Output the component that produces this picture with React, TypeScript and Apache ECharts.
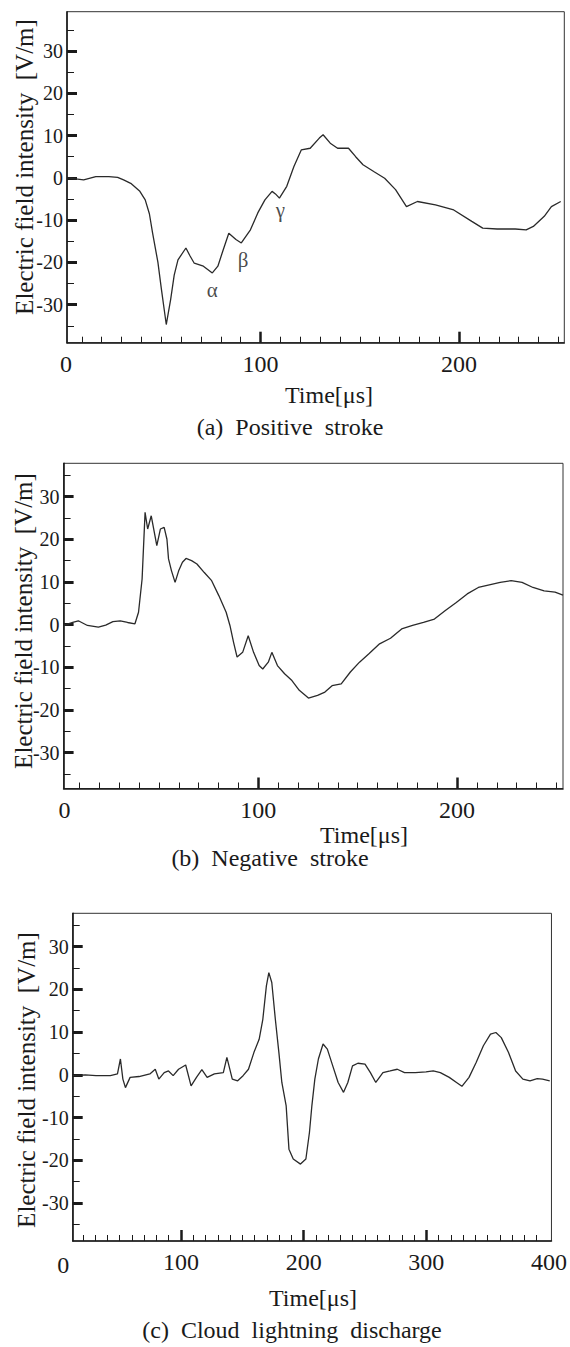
import React, { useEffect, useRef } from "react";
import * as echarts from "echarts";

// ---------- (a) Positive stroke ----------
const aTime = [2.8, 10.9, 17, 23.6, 28, 31, 34.6, 39.2, 41.9, 44, 45.6, 48.3, 50.1, 52.5, 54.7, 56.5, 58.4, 62.4, 64.5, 66.6, 71.2, 75.7, 78.5, 81.2, 84, 87.6, 90.3, 94.9, 98.6, 102.2, 105.8, 107.5, 109.5, 113.2, 116.8, 120.5, 125, 129.6, 131.5, 135.1, 138.8, 144.3, 147.9, 151.6, 157, 162.5, 168, 173.5, 179, 188.1, 197.3, 206.4, 211.9, 219.2, 228.3, 233.8, 237.4, 242.9, 246.5, 251.2];
const aField = [0, -0.5, 0.3, 0.3, 0.1, -0.5, -1.3, -3.2, -5.2, -8.5, -13, -20, -26.5, -34.7, -28.8, -23, -19.4, -16.6, -18.5, -20.2, -20.9, -22.5, -20.9, -17, -13.1, -14.6, -15.4, -12.3, -8.3, -5.2, -3.2, -3.8, -4.8, -2, 2.7, 6.6, 7, 9.4, 10.2, 8.2, 7, 7, 5, 3.1, 1.5, -0.1, -2.8, -6.8, -5.6, -6.4, -7.6, -10.3, -11.9, -12.1, -12.1, -12.3, -11.5, -9.1, -6.8, -5.6];
const aMarkNames = ["α", "β", "γ"];
const aMarkTime = [75.7, 91.2, 110];
const aMarkField = [-26.5, -19.4, -7.6];

// ---------- (b) Negative stroke ----------
const bTime = [2, 6.6, 9.4, 14, 19.5, 23.2, 26.8, 30.5, 34.2, 37.9, 39.7, 41.5, 43, 44.3, 46.1, 48.9, 50.7, 52.6, 54, 54.8, 56.3, 58.1, 59.9, 61.8, 63.6, 66.4, 69.1, 72.8, 76.5, 80.1, 83.8, 85.7, 87.5, 89.3, 92.1, 94.9, 97.6, 100.4, 102.2, 105, 106.8, 109.6, 113.2, 116.9, 120.6, 125.2, 129.8, 133.5, 137.1, 141.7, 146.3, 150.9, 155.5, 161, 166.5, 172.1, 177.6, 183.1, 188.6, 194.1, 199.6, 205.1, 210.7, 216.2, 221.7, 227.2, 232.7, 238.2, 243.8, 249.3, 253.3];
const bField = [-0.2, 0.5, 0.9, -0.2, -0.6, -0.1, 0.7, 0.9, 0.5, 0.2, 2.9, 10.7, 26.3, 22.4, 25.5, 18.5, 22.4, 22.8, 20, 15.4, 12.6, 9.9, 12.6, 14.6, 15.5, 15, 14.2, 12.2, 10.3, 6.8, 2.9, -0.2, -4.1, -7.6, -6.5, -2.6, -6.5, -9.6, -10.4, -8.8, -6.5, -9.6, -11.5, -13.1, -15.4, -17.2, -16.6, -15.8, -14.3, -13.9, -11.1, -8.8, -6.9, -4.5, -3.2, -1, -0.2, 0.5, 1.3, 3.3, 5.2, 7.2, 8.7, 9.3, 9.9, 10.3, 9.9, 8.7, 7.9, 7.6, 6.9];

// ---------- (c) Cloud lightning discharge ----------
const cTime = [11.7, 21.9, 30.7, 42.4, 48.2, 50.6, 52.6, 54.7, 58.5, 65.8, 74.6, 79, 81.9, 86.3, 89.8, 93.6, 98, 103.8, 108.2, 112.6, 117, 121.3, 127.2, 134.5, 137.4, 141.8, 146.2, 150.6, 155, 159.4, 163.7, 166.7, 169.6, 171.6, 174, 176.9, 179.8, 182.2, 185.7, 188, 191.5, 197.4, 201.8, 204.7, 206.7, 209.1, 212, 215.8, 219.3, 223.7, 228.1, 232.5, 236, 239.8, 244.2, 250, 254.4, 258.8, 264.6, 270.5, 276.3, 282.2, 291, 299.7, 305.6, 311.4, 318.7, 324.6, 329, 334.8, 340.6, 346.5, 352.3, 356.7, 361.1, 367, 372.8, 378.7, 384.5, 390.4, 394.7, 400.6];
const cField = [-0.2, 0, -0.2, -0.2, 0.2, 3.7, -1, -3, -0.6, -0.4, 0.2, 1.3, -1, 0.5, 0.9, -0.2, 1.3, 2.3, -2.6, -0.6, 1.2, -0.6, 0.2, 0.5, 4.1, -1, -1.4, -0.2, 1.3, 5.2, 8.3, 13, 20.8, 23.9, 21.6, 13, 5.2, -1.8, -7.2, -17.4, -19.7, -20.9, -19.7, -13.5, -7.2, -1, 3.7, 7.2, 6, 2.1, -1.8, -4.1, -1.8, 2.1, 2.7, 2.5, 0.5, -1.8, 0.5, 0.9, 1.3, 0.5, 0.5, 0.7, 0.9, 0.5, -0.6, -1.8, -2.7, -0.6, 2.9, 6.8, 9.5, 9.9, 8.7, 5.2, 0.9, -1, -1.4, -0.9, -1, -1.4];

// ---------- ticks & labels ----------
const yLabels = [-30, -20, -10, 0, 10, 20, 30];
const yMinorTicks = [-35, -25, -15, -5, 5, 15, 25, 35];
const abXLabels = [100, 200];
const abXMajorTicks = [100, 200];
const abXMinorTicks = [10, 20, 30, 40, 50, 60, 70, 80, 90, 110, 120, 130, 140, 150, 160, 170, 180, 190, 210, 220, 230, 240, 250];
const cXLabels = [100, 200, 300, 400];
const cXMajorTicks = [100, 200, 300];
const cXMinorTicks = [20, 30, 40, 50, 60, 70, 80, 90, 110, 120, 130, 140, 150, 160, 170, 180, 190, 210, 220, 230, 240, 250, 260, 270, 280, 290, 310, 320, 330, 340, 350, 360, 370, 380, 390];

const yTitle = "Electric field intensity  [V/m]";
const xTitle = "Time[μs]";
const captions = ["(a)  Positive  stroke", "(b)  Negative  stroke", "(c)  Cloud  lightning  discharge"];

const FONT = "Liberation Serif, Times New Roman, serif";
const INK = "#1a1a1a";

const panels = [
  { grid: { left: 67, top: 11.7, width: 497.3, height: 331 }, xMin: 2.5, xMax: 253, yMin: -39, yMax: 39.3, xLabels: abXLabels, xMajor: abXMajorTicks, xMinor: abXMinorTicks, time: aTime, field: aField, zero: [66, 364], yName: [24.5, 167], title: [329, 395], caption: [290, 427] },
  { grid: { left: 63.6, top: 463.3, width: 499.4, height: 325.2 }, xMin: 2, xMax: 253.3, yMin: -38.4, yMax: 37.8, xLabels: abXLabels, xMajor: abXMajorTicks, xMinor: abXMinorTicks, time: bTime, field: bField, zero: [64.5, 810], yName: [23, 621], title: [364, 835], caption: [270, 858] },
  { grid: { left: 72.7, top: 913.3, width: 481.6, height: 327.7 }, xMin: 11.7, xMax: 402, yMin: -38.9, yMax: 37.8, xLabels: cXLabels, xMajor: cXMajorTicks, xMinor: cXMinorTicks, time: cTime, field: cField, zero: [63.3, 1265], yName: [26, 1080], title: [313, 1298], caption: [292, 1330] },
];

function textEl(text: string, x: number, y: number, size: number, rotation = 0) {
  return {
    type: "text",
    x,
    y,
    rotation,
    silent: true,
    style: {
      text,
      font: `${size}px ${FONT}`,
      fill: INK,
      textAlign: "center",
      textVerticalAlign: "middle",
      align: "center",
      verticalAlign: "middle",
    },
  };
}

function buildOption() {
  const grid: any[] = [];
  const xAxis: any[] = [];
  const yAxis: any[] = [];
  const series: any[] = [];
  const graphic: any[] = [];

  panels.forEach((p, i) => {
    grid.push({ ...p.grid, show: true, borderColor: "#333", borderWidth: 1, backgroundColor: "transparent" });
    xAxis.push({
      type: "value", gridIndex: i, position: "bottom", min: p.xMin, max: p.xMax,
      axisLine: { show: true, onZero: false, lineStyle: { color: INK, width: 1.6 } },
      axisTick: { show: true, inside: true, length: 11, lineStyle: { color: INK, width: 2.5 }, customValues: p.xMajor },
      axisLabel: { show: true, customValues: p.xLabels, margin: 9, fontSize: 24, fontFamily: FONT, color: INK },
      splitLine: { show: false },
    });
    xAxis.push({
      type: "value", gridIndex: i, position: "bottom", min: p.xMin, max: p.xMax,
      axisLine: { show: false, onZero: false },
      axisTick: { show: true, inside: true, length: 6, lineStyle: { color: INK, width: 1 }, customValues: p.xMinor },
      axisLabel: { show: false },
      splitLine: { show: false },
    });
    yAxis.push({
      type: "value", gridIndex: i, position: "left", min: p.yMin, max: p.yMax,
      axisLine: { show: true, onZero: false, lineStyle: { color: INK, width: 1.6 } },
      axisTick: { show: true, inside: true, length: 10, lineStyle: { color: INK, width: 3 }, customValues: yLabels },
      axisLabel: { show: true, customValues: yLabels, margin: 4, fontSize: 20, fontFamily: FONT, color: INK },
      splitLine: { show: false },
    });
    yAxis.push({
      type: "value", gridIndex: i, position: "left", min: p.yMin, max: p.yMax,
      axisLine: { show: false, onZero: false },
      axisTick: { show: true, inside: true, length: 7, lineStyle: { color: INK, width: 1 }, customValues: yMinorTicks },
      axisLabel: { show: false },
      splitLine: { show: false },
    });

    series.push({
      type: "line",
      xAxisIndex: i * 2,
      yAxisIndex: i * 2,
      data: p.time.map((t, k) => [t, p.field[k]]),
      showSymbol: false,
      symbol: "none",
      smooth: false,
      lineStyle: { color: "#2a2a2a", width: 1.3 },
      silent: true,
    });

    graphic.push(textEl("0", p.zero[0], p.zero[1], 24));
    graphic.push(textEl(yTitle, p.yName[0], p.yName[1], 25, Math.PI / 2));
    graphic.push(textEl(xTitle, p.title[0], p.title[1], 24));
    graphic.push(textEl(captions[i], p.caption[0], p.caption[1], 24));
  });

  series.push({
    type: "scatter",
    xAxisIndex: 0,
    yAxisIndex: 0,
    symbolSize: 1,
    itemStyle: { color: "rgba(0,0,0,0)" },
    silent: true,
    data: aMarkNames.map((n, k) => ({ name: n, value: [aMarkTime[k], aMarkField[k]] })),
    label: { show: true, position: "inside", formatter: "{b}", fontSize: 21, fontFamily: FONT, color: INK },
  });

  return {
    animation: false,
    backgroundColor: "#ffffff",
    grid,
    xAxis,
    yAxis,
    series,
    graphic,
  };
}

export default function App() {
  const ref = useRef<HTMLDivElement>(null);
  useEffect(() => {
    if (!ref.current) return;
    const chart = echarts.init(ref.current, null, { renderer: "svg" });
    chart.setOption(buildOption() as any);
    return () => chart.dispose();
  }, []);
  return (
    <div
      ref={ref}
      style={{ position: "absolute", left: 0, top: 0, width: 570, height: 1347, background: "#fff" }}
    />
  );
}
